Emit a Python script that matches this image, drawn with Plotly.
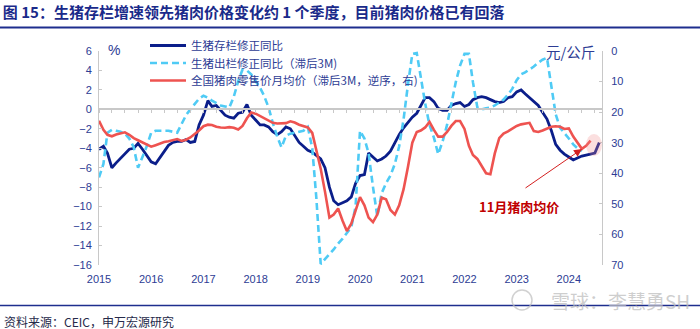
import pandas as pd
import plotly.graph_objects as go

dates = pd.date_range("2015-01-01", "2024-08-01", freq="MS")

inventory_yoy = [
    -4.1, -3.8, -4.5, -6.0, -5.5, -5.0, -4.5, -4.1, -4.0, -3.5, -4.1, -4.8,
    -5.4, -5.6, -5.0, -4.3, -3.7, -3.4, -3.3, -3.3, -3.1, -3.4, -3.3, -1.6,
    -0.6, 0.9, 0.3, 0.4, -0.1, -0.6, -0.8, -0.9, -0.4, -0.3, 0.5, -0.6,
    -1.1, -1.6, -1.6, -1.8, -2.3, -2.6, -2.3, -1.8, -2.0, -2.7, -3.4, -3.8,
    -4.2, -4.4, -4.7, -5.1, -6.0, -8.0, -9.4, -9.8, -9.6, -9.4, -9.0, -7.6,
    -6.8, -6.7, -4.5, -4.9, -5.3, -5.1, -4.8, -4.3, -3.4, -2.6, -1.9, -1.3,
    -0.8, -0.4, 0.4, 1.2, 1.2, 0.8, 0.1, -0.1, -0.1, 0.4, 0.6, 0.7,
    0.3, 0.5, 1.0, 1.2, 1.3, 1.2, 1.0, 0.8, 0.7, 0.8, 1.2, 1.3,
    1.8, 2.0, 1.6, 1.2, 0.8, 0.4, -0.3, -1.0, -2.2, -3.6, -4.2, -4.6,
    -4.9, -5.2, -5.0, -4.8, -4.7, -4.6, -4.5, -3.4,
]

slaughter_yoy_lag3 = [
    -7.0, -5.6, -2.4, -2.1, -2.2, -2.3, -2.5, -3.0, -3.9, -6.0, -4.9, -3.8,
    -2.4, -2.2, -2.2, -2.2, -2.2, -2.3, -2.4, -1.5, -0.6, 0.0, 0.6, 1.1,
    1.4, 1.2, 0.9, 0.6, 0.4, 0.3, 0.2, 1.3, 2.9, 4.1, 4.0, 3.6,
    2.9, 2.2, 1.4, 0.2, -1.4, -2.8, -3.9, -2.7, -2.5, -2.4, -2.3, -2.2,
    -1.8, -4.0, -9.0, -15.9, -15.4, -14.9, -14.4, -13.8, -13.3, -12.7, -12.1, -10.0,
    -2.2, -3.0, -4.5, -8.0, -11.0, -8.6, -7.6, -6.8, -5.6, -3.8, -1.0, 2.5,
    5.7, 5.8, 3.3, 0.6, -1.6, -2.9, -4.6, -3.3, -1.6, 0.5, 2.8, 4.5,
    5.7, 5.7, 2.8, 0.2, 0.0, 0.1, 0.2, 0.4, 0.7, 1.0, 1.5, 2.1,
    3.0, 3.6, 3.8, 4.1, 4.4, 4.8, 5.1, 5.3, 2.5, -0.5, -1.9, -2.5,
    -3.0, -3.6, -4.0, -4.3,
]

pork_price_lag3 = [
    22.8, 25.8, 27.4, 27.9, 27.3, 26.9, 26.6, 27.4, 28.5, 29.2, 29.9, 30.6,
    31.3, 30.8, 30.2, 29.8, 29.5, 29.1, 28.8, 29.4, 29.0, 28.3, 27.2, 26.0,
    24.6, 24.1, 24.2, 24.8, 25.0, 25.1, 24.9, 25.1, 25.7, 24.5, 22.0, 20.1,
    20.5, 21.3, 21.8, 22.8, 23.5, 23.7, 23.7, 23.6, 23.0, 23.4, 24.1, 24.6,
    25.0, 26.8, 32.0, 38.5, 46.0, 54.5, 53.5, 51.5, 55.5, 58.9, 56.5, 52.0,
    47.8, 50.5, 54.5, 56.0, 53.5, 48.0, 48.5, 52.0, 53.5, 50.5, 45.2, 38.0,
    30.0, 26.5, 26.0, 25.0, 23.2, 25.8, 28.0, 28.0, 26.5, 24.5, 22.9, 22.9,
    25.5, 31.0, 34.0, 35.3, 37.5, 40.0, 40.3, 33.5, 28.5, 27.0, 26.3, 25.3,
    24.5, 24.0, 23.8, 23.5, 26.2, 26.5, 26.0, 25.4, 24.8, 24.6, 24.8, 25.5,
    25.3, 28.0, 29.8, 32.0, 31.0, 29.3,
]

year_ticks = [str(y) for y in range(2015, 2025)]

NAVY = "#0B1E8A"
CYAN = "#4FCBF5"
RED = "#EE5350"
TICK = "#2D3C94"
AXIS = "#C8C8C8"
FONT = "Liberation Sans, Noto Sans CJK SC, sans-serif"
CJK = "Noto Sans CJK SC, sans-serif"

x_range = ["2015-01-01", "2024-08-20"]

W, H = 503.0, 214.0
def px(xp):
    return (xp - 99) / W
def py(yp):
    return (265 - yp) / H

fig = go.Figure()
fig.add_trace(go.Scatter(
    x=dates[:len(inventory_yoy)], y=inventory_yoy, name="生猪存栏修正同比",
    mode="lines", line=dict(color=NAVY, width=2.8), legend="legend"))
fig.add_trace(go.Scatter(
    x=dates[:len(slaughter_yoy_lag3)], y=slaughter_yoy_lag3, name="生猪出栏修正同比（滞后3M)",
    mode="lines", line=dict(color=CYAN, width=2.6, dash="7px,4px"), legend="legend2"))
fig.add_trace(go.Scatter(
    x=dates[:len(pork_price_lag3)], y=pork_price_lag3, name="全国猪肉零售价月均价（滞后3M，逆序，右)",
    mode="lines", line=dict(color=RED, width=2.6), yaxis="y2", legend="legend3"))
# helper trace so the zero-line axis is rendered
fig.add_trace(go.Scatter(x=[dates[0]], y=[None], xaxis="x2", showlegend=False,
                         hoverinfo="skip", mode="lines"))

def legend_at(row_y):
    return dict(x=px(145), y=py(row_y), xanchor="left", yanchor="middle",
                bgcolor="rgba(0,0,0,0)", font=dict(family=CJK, size=11.5, color=TICK),
                itemwidth=36, borderwidth=0)

fig.update_layout(
    width=700, height=329,
    margin=dict(l=99, r=98, t=51, b=64),
    paper_bgcolor="white", plot_bgcolor="white",
    font=dict(family=FONT, color=TICK, size=11),
    showlegend=True,
    legend=legend_at(45.5),
    legend2=legend_at(63),
    legend3=legend_at(80.5),
    title=dict(text="<b>图 15：生猪存栏增速领先猪肉价格变化约 1 个季度，目前猪肉价格已有回落</b>",
               x=0.004, xanchor="left", y=0.962, yanchor="middle",
               font=dict(family=CJK, size=15, color="#1A2A8A")),
    xaxis=dict(type="date", range=x_range, tickvals=pd.to_datetime([t + "-01-01" for t in year_ticks]),
               ticktext=year_ticks, showline=False, ticks="", showgrid=False, zeroline=False,
               tickfont=dict(size=11, color=TICK), ticklabelstandoff=6),
    xaxis2=dict(type="date", range=x_range, overlaying="x", anchor="free", position=16 / 22,
                showline=True, linecolor=AXIS, linewidth=1.5, ticks="outside", ticklen=3,
                tickcolor=AXIS, tickwidth=1, dtick="M3", tick0="2015-01-01",
                showticklabels=False, showgrid=False, zeroline=False),
    yaxis=dict(range=[-16, 6], dtick=2, tick0=0, showline=True, linecolor=AXIS, linewidth=1,
               ticks="inside", ticklen=3, tickcolor=AXIS, showgrid=False, zeroline=False,
               tickfont=dict(size=11, color=TICK), ticklabelstandoff=4),
    yaxis2=dict(range=[70, 0], dtick=10, overlaying="y", side="right", showline=True,
                linecolor=AXIS, linewidth=1, ticks="inside", ticklen=3, tickcolor=AXIS,
                showgrid=False, zeroline=False, tickfont=dict(size=11, color=TICK),
                ticklabelstandoff=6),
)

shapes = [
    dict(type="line", xref="paper", yref="paper", x0=px(0), x1=px(700), y0=py(27.5), y1=py(27.5),
         line=dict(color="#1E2E8E", width=2)),
    dict(type="line", xref="paper", yref="paper", x0=px(0), x1=px(700), y0=py(305.5), y1=py(305.5),
         line=dict(color="#1E2E8E", width=1.5)),
    dict(type="circle", xref="paper", yref="paper", x0=px(586), x1=px(602), y0=py(134), y1=py(156),
         fillcolor="rgba(240,140,140,0.28)", line=dict(width=0)),
    dict(type="circle", xref="paper", yref="paper", x0=px(512), x1=px(532), y0=py(290), y1=py(310),
         fillcolor="rgba(0,0,0,0)", line=dict(color="rgba(190,190,190,0.7)", width=1.5)),
]
fig.update_layout(shapes=shapes)

annotations = [
    dict(text="%", xref="paper", yref="paper", x=px(106), y=py(50), xanchor="left", yanchor="middle",
         showarrow=False, font=dict(family=FONT, size=14, color=TICK)),
    dict(text="元/公斤", xref="paper", yref="paper", x=px(597), y=py(52), xanchor="right",
         yanchor="middle", showarrow=False, font=dict(family=CJK, size=14.5, color=TICK)),
    dict(text="<b>11月猪肉均价</b>", xref="paper", yref="paper", x=px(519), y=py(206),
         xanchor="center", yanchor="middle", showarrow=False,
         font=dict(family=CJK, size=13, color="#C00000")),
    dict(text="", xref="paper", yref="paper", x=px(582), y=py(149), ax=524 - 582, ay=189 - 149,
         axref="pixel", ayref="pixel", showarrow=True, arrowhead=2, arrowsize=1.6, arrowwidth=1,
         arrowcolor="#D42020", standoff=0),
    dict(text="资料来源：CEIC，申万宏源研究", xref="paper", yref="paper", x=px(2), y=py(322),
         xanchor="left", yanchor="middle", showarrow=False,
         font=dict(family=CJK, size=12, color="#262A4A")),
    dict(text="雪球：李慧勇SH", xref="paper", yref="paper", x=px(692), y=py(300),
         xanchor="right", yanchor="middle", showarrow=False,
         font=dict(family=CJK, size=19, color="rgba(190,190,190,0.75)")),
]
fig.update_layout(annotations=annotations)

fig.write_html("out.html")
